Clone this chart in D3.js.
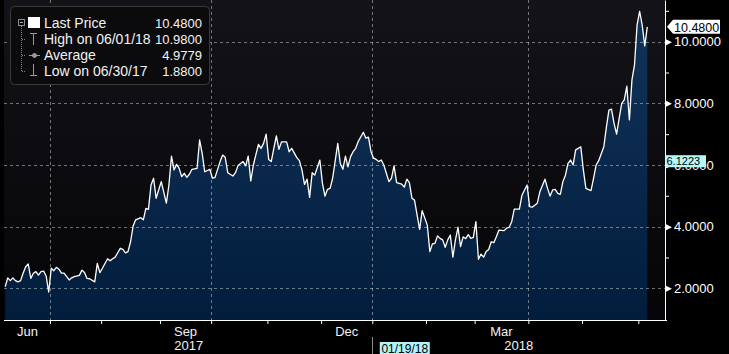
<!DOCTYPE html>
<html>
<head>
<meta charset="utf-8">
<script src="https://cdn.jsdelivr.net/npm/d3@7"></script>
<style>
  html, body { margin: 0; padding: 0; background: #000; }
  svg { display: block; font-family: "Liberation Sans", Arial, sans-serif; }
</style>
</head>
<body>
<svg id="chart" width="729" height="354"></svg>
<script>
// ===Data===
const dates = [
  "2017-06-07","2017-06-08","2017-06-09","2017-06-12","2017-06-13","2017-06-14","2017-06-15","2017-06-16",
  "2017-06-19","2017-06-20","2017-06-21","2017-06-22","2017-06-23","2017-06-26","2017-06-27","2017-06-28",
  "2017-06-29","2017-06-30","2017-07-03","2017-07-05","2017-07-06","2017-07-07","2017-07-10","2017-07-11",
  "2017-07-13","2017-07-14","2017-07-17","2017-07-19","2017-07-20","2017-07-21","2017-07-24","2017-07-25",
  "2017-07-27","2017-07-28","2017-07-31","2017-08-01","2017-08-03","2017-08-04","2017-08-07","2017-08-08",
  "2017-08-10","2017-08-11","2017-08-14","2017-08-15","2017-08-16","2017-08-17","2017-08-18","2017-08-22",
  "2017-08-23","2017-08-24","2017-08-25","2017-08-28","2017-08-29","2017-08-30","2017-09-01","2017-09-06",
  "2017-09-07","2017-09-08","2017-09-11","2017-09-12","2017-09-13","2017-09-14","2017-09-15","2017-09-18",
  "2017-09-19","2017-09-20","2017-09-22","2017-09-25","2017-09-26","2017-09-27","2017-09-29","2017-10-02",
  "2017-10-03","2017-10-05","2017-10-06","2017-10-09","2017-10-10","2017-10-12","2017-10-13","2017-10-16",
  "2017-10-18","2017-10-19","2017-10-20","2017-10-23","2017-10-24","2017-10-26","2017-10-27","2017-10-30",
  "2017-10-31","2017-11-01","2017-11-02","2017-11-03","2017-11-06","2017-11-07","2017-11-08","2017-11-10",
  "2017-11-13","2017-11-14","2017-11-16","2017-11-17","2017-11-20","2017-11-21","2017-11-22","2017-11-24",
  "2017-11-27","2017-11-28","2017-11-30","2017-12-01","2017-12-04","2017-12-05","2017-12-06","2017-12-07",
  "2017-12-11","2017-12-12","2017-12-13","2017-12-14","2017-12-15","2017-12-18","2017-12-19","2017-12-20",
  "2017-12-21","2017-12-26","2017-12-27","2017-12-28","2017-12-29","2018-01-02","2018-01-03","2018-01-04",
  "2018-01-05","2018-01-08","2018-01-09","2018-01-10","2018-01-11","2018-01-12","2018-01-16","2018-01-18",
  "2018-01-19","2018-01-22","2018-01-23","2018-01-24","2018-01-25","2018-01-29","2018-01-30","2018-02-01",
  "2018-02-02","2018-02-05","2018-02-06","2018-02-07","2018-02-08","2018-02-09","2018-02-12","2018-02-13",
  "2018-02-14","2018-02-15","2018-02-16","2018-02-20","2018-02-21","2018-02-22","2018-02-23","2018-02-26",
  "2018-02-27","2018-02-28","2018-03-01","2018-03-02","2018-03-05","2018-03-06","2018-03-07","2018-03-08",
  "2018-03-09","2018-03-12","2018-03-13","2018-03-14","2018-03-16","2018-03-19","2018-03-20","2018-03-21",
  "2018-03-22","2018-03-26","2018-03-27","2018-03-29","2018-04-02","2018-04-03","2018-04-05","2018-04-06",
  "2018-04-10","2018-04-11","2018-04-12","2018-04-13","2018-04-16","2018-04-17","2018-04-18","2018-04-19",
  "2018-04-20","2018-04-23","2018-04-24","2018-04-25","2018-04-26","2018-04-27","2018-04-30","2018-05-01",
  "2018-05-02","2018-05-04","2018-05-07","2018-05-08","2018-05-09","2018-05-11","2018-05-14","2018-05-15",
  "2018-05-16","2018-05-17","2018-05-18","2018-05-21","2018-05-22","2018-05-23","2018-05-24","2018-05-25",
  "2018-05-29","2018-05-30","2018-05-31","2018-06-01","2018-06-04","2018-06-05","2018-06-06"
];
const prices = [
  2.05,2.34,2.25,2.34,2.25,2.21,2.25,2.49,
  2.70,2.79,2.32,2.49,2.54,2.43,2.54,2.56,
  2.40,1.88,2.65,2.57,2.68,2.62,2.49,2.49,
  2.27,2.34,2.38,2.42,2.59,2.51,2.32,2.31,
  2.21,2.81,2.51,2.65,2.96,2.89,2.96,3.01,
  3.30,3.26,3.15,3.19,3.51,4.02,4.22,4.29,
  4.22,4.59,4.56,5.35,5.57,4.92,5.46,4.76,
  5.35,6.29,5.84,6.02,5.89,5.62,5.73,5.60,
  5.70,5.86,5.89,6.81,6.38,5.78,5.86,5.57,
  5.59,6.11,6.32,6.25,5.75,5.64,5.75,5.98,
  6.11,5.97,6.29,5.48,6.00,6.67,6.54,6.70,
  7.00,6.18,6.11,6.54,6.94,6.51,6.75,6.75,
  6.43,6.54,6.24,6.14,5.84,5.37,5.54,4.95,
  5.75,5.67,6.16,5.41,4.99,5.21,5.24,5.57,
  6.70,6.05,5.86,6.29,5.94,6.27,6.43,6.54,
  6.76,7.06,6.87,6.90,6.43,6.22,6.18,6.11,
  6.16,6.00,5.73,5.46,5.57,5.97,5.43,5.38,
  5.28,5.54,5.43,4.92,4.86,3.91,4.52,4.05,
  3.19,3.44,3.46,3.70,3.62,3.57,3.33,3.57,
  3.73,3.01,3.57,3.98,3.35,3.67,3.61,3.74,
  3.62,3.65,4.16,2.94,3.11,3.01,3.19,3.26,
  3.51,3.48,3.67,3.89,3.87,3.95,3.98,4.16,
  4.57,4.57,5.02,5.35,4.65,4.63,4.76,5.13,
  5.54,5.24,4.99,5.19,5.21,5.08,5.05,5.46,
  5.67,6.05,6.16,6.00,6.49,6.54,6.59,5.84,
  5.24,5.17,5.57,6.00,6.14,6.59,7.22,7.78,
  7.81,7.35,7.00,7.51,8.00,8.11,8.56,7.46,
  8.76,9.25,10.54,10.98,10.54,9.86,10.48
];
const holidays = [
  "2017-07-04","2017-09-04","2017-11-23","2017-12-25",
  "2018-01-01","2018-01-15","2018-02-19","2018-03-30","2018-05-28"
];
const gridMonths = ["2017-07", "2017-10", "2018-01", "2018-04"];
const labelMonths = ["2017-06", "2017-09", "2017-12", "2018-03"];
const monthNames = ["Jun", "Sep", "Dec", "Mar"];
const years = ["2017", "2018"];
const yTicks = [2, 3, 4, 5, 6, 7, 8, 9, 10, 11];
const legendLabels = ["Last Price", "High on 06/01/18", "Average", "Low on 06/30/17"];
const legendValues = ["10.4800", "10.9800", "4.9779", "1.8800"];
const lastPrice = 10.48;
const crossValue = 6.1223;
const crossDate = "2018-01-19";

//===Graph===
const plotLeft = 4, plotRight = 665, plotTop = 0, plotBottom = 320;

// trading calendar used for the x axis (weekdays without holidays)
const fmt = d3.timeFormat("%Y-%m-%d");
const days = d3.timeDay
  .range(new Date(2017, 5, 7), new Date(2018, 5, 7))
  .filter((d) => d.getDay() % 6 !== 0)
  .map(fmt)
  .filter((d) => !holidays.includes(d));
const dayIndex = new Map(days.map((d, i) => [d, i]));

const x = d3.scaleLinear().domain([0, days.length - 1]).range([5.2, 647.3]);
const y = d3.scaleLinear().domain([0.972, 11.351]).range([plotBottom, plotTop]);

const data = dates.map((d, i) => ({ i: dayIndex.get(d), v: prices[i] }))
  .filter((d) => d.i !== undefined);

// month boundaries sit halfway between two trading days
const bounds = [];
days.forEach((d, i) => {
  if (i > 0 && d.slice(0, 7) !== days[i - 1].slice(0, 7)) {
    bounds.push({ month: d.slice(0, 7), i: i - 0.5 });
  }
});
const boundOf = (m) => {
  const b = bounds.find((e) => e.month === m);
  return b ? b.i : 0;
};
const boundAfter = (m) => {
  const b = bounds.find((e) => e.month > m);
  return b ? b.i : days.length - 1;
};

const svg = d3.select("#chart");
const defs = svg.append("defs");

const bgGrad = defs.append("linearGradient").attr("id", "bg")
  .attr("gradientUnits", "userSpaceOnUse")
  .attr("x1", 0).attr("y1", plotTop).attr("x2", 0).attr("y2", plotBottom);
bgGrad.append("stop").attr("offset", 0).attr("stop-color", "#141319");
bgGrad.append("stop").attr("offset", 1).attr("stop-color", "#050507");

const areaGrad = defs.append("linearGradient").attr("id", "fill")
  .attr("gradientUnits", "userSpaceOnUse")
  .attr("x1", 0).attr("y1", plotTop).attr("x2", 0).attr("y2", plotBottom);
areaGrad.append("stop").attr("offset", 0).attr("stop-color", "#12345c");
areaGrad.append("stop").attr("offset", 1).attr("stop-color", "#021d3c");

svg.append("rect").attr("width", 729).attr("height", 354).attr("fill", "#000");
svg.append("rect")
  .attr("x", plotLeft).attr("y", plotTop)
  .attr("width", plotRight - plotLeft).attr("height", plotBottom - plotTop)
  .attr("fill", "url(#bg)");

// Area + line
svg.append("path")
  .datum(data)
  .attr("fill", "url(#fill)")
  .attr("d", d3.area().x((d) => x(d.i)).y0(plotBottom).y1((d) => y(d.v)));

// Grid
const grid = svg.append("g")
  .attr("stroke", "#ffffff")
  .attr("stroke-opacity", 0.42)
  .attr("stroke-dasharray", "3,3")
  .attr("shape-rendering", "crispEdges");
grid.selectAll("line.h")
  .data(yTicks.filter((t) => t % 2 === 0))
  .join("line")
  .attr("x1", plotLeft).attr("x2", plotRight)
  .attr("y1", (d) => Math.round(y(d)) + 0.5).attr("y2", (d) => Math.round(y(d)) + 0.5);
grid.selectAll("line.v")
  .data(gridMonths)
  .join("line")
  .attr("x1", (d) => Math.round(x(boundOf(d))) + 0.5)
  .attr("x2", (d) => Math.round(x(boundOf(d))) + 0.5)
  .attr("y1", plotTop).attr("y2", plotBottom);

svg.append("path")
  .datum(data)
  .attr("fill", "none")
  .attr("stroke", "#ffffff")
  .attr("stroke-width", 1.3)
  .attr("stroke-linejoin", "round")
  .attr("d", d3.line().x((d) => x(d.i)).y((d) => y(d.v)));

// Y axis
const yAxis = svg.append("g")
  .attr("transform", `translate(${plotRight},0)`)
  .call(
    d3.axisRight(y)
      .tickValues(yTicks)
      .tickSize(4)
      .tickSizeOuter(0)
      .tickPadding(5)
      .tickFormat((d) => (d % 2 === 0 ? d3.format(".4f")(d) : ""))
  )
  .attr("font-family", null)
  .attr("font-size", 13);
yAxis.select(".domain").attr("stroke", "#ffffff");
yAxis.selectAll(".tick line").attr("stroke", "#ffffff");
yAxis.selectAll(".tick text").attr("fill", "#ffffff");
yAxis.selectAll(".tick")
  .filter((d) => d % 2 === 0)
  .call((g) => g.select("line").remove())
  .append("path")
  .attr("d", "M1,-3L7,0L1,3Z")
  .attr("fill", "#ffffff");

// X axis
const xAxis = svg.append("g")
  .attr("transform", `translate(0,${plotBottom})`)
  .call(d3.axisBottom(x).tickValues(bounds.map((b) => b.i)).tickSize(4).tickFormat(""));
xAxis.select(".domain").remove();
xAxis.selectAll(".tick line").attr("stroke", "#ffffff");
svg.append("line")
  .attr("x1", plotLeft).attr("x2", plotRight + 2)
  .attr("y1", plotBottom + 0.5).attr("y2", plotBottom + 0.5)
  .attr("stroke", "#ffffff");

svg.append("g")
  .selectAll("text")
  .data(labelMonths)
  .join("text")
  .attr("x", (d) => (x(boundOf(d)) + x(boundAfter(d))) / 2)
  .attr("y", 335.5)
  .attr("text-anchor", "middle")
  .attr("font-size", 13)
  .attr("fill", "#f2f2f2")
  .text((d, i) => monthNames[i]);

const janBound = x(boundOf("2018-01"));
svg.append("g")
  .selectAll("text")
  .data(years)
  .join("text")
  .attr("x", (d, i) => (i === 0 ? (x(0) + janBound) / 2 : (janBound + plotRight) / 2))
  .attr("y", 350)
  .attr("text-anchor", "middle")
  .attr("font-size", 13)
  .attr("fill", "#f2f2f2")
  .text((d) => d);
svg.append("line")
  .attr("x1", Math.round(janBound) + 0.5).attr("x2", Math.round(janBound) + 0.5)
  .attr("y1", 337).attr("y2", 354)
  .attr("stroke", "#8a8a8a");

// Crosshair date label
const cx = x(dayIndex.get(crossDate));
svg.append("rect")
  .attr("x", cx - 24.5).attr("y", 342)
  .attr("width", 50).attr("height", 13)
  .attr("fill", "#b4f2f6");
svg.append("text")
  .attr("x", cx + 0.5).attr("y", 352.5)
  .attr("text-anchor", "middle")
  .attr("font-size", 12)
  .attr("fill", "#000")
  .text(d3.timeFormat("%m/%d/%y")(d3.timeParse("%Y-%m-%d")(crossDate)));

// Crosshair value label
const cy = y(crossValue);
svg.append("rect")
  .attr("x", plotRight + 0.5).attr("y", cy - 6)
  .attr("width", 40.5).attr("height", 12)
  .attr("fill", "#b4f8f8");
svg.append("text")
  .attr("x", plotRight + 1.5).attr("y", cy + 4)
  .attr("font-size", 11)
  .attr("fill", "#000")
  .text(d3.format(".4f")(crossValue));

// Last price label
const ly = y(lastPrice);
svg.append("path")
  .attr("d", `M${plotRight + 2},${ly} L${plotRight + 8},${ly - 7} H${plotRight + 55} V${ly + 7} H${plotRight + 8} Z`)
  .attr("fill", "#ffffff");
svg.append("text")
  .attr("x", plotRight + 9).attr("y", ly + 5)
  .attr("font-size", 12.5)
  .attr("fill", "#000")
  .text(d3.format(".4f")(lastPrice));

// Legend
const legend = svg.append("g");
legend.append("rect")
  .attr("x", 10.5).attr("y", 6.5)
  .attr("width", 199).attr("height", 78)
  .attr("rx", 4)
  .attr("fill", "#0b0b0d")
  .attr("stroke", "#3a3a3a");

const rowY = (i) => 23 + i * 16;
const tree = legend.append("g")
  .attr("stroke", "#808080")
  .attr("stroke-dasharray", "1,1")
  .attr("shape-rendering", "crispEdges");
tree.append("line").attr("x1", 21.5).attr("x2", 21.5).attr("y1", 26).attr("y2", rowY(3) + 0.5);
[1, 2, 3].forEach((i) => {
  tree.append("line").attr("x1", 21.5).attr("x2", 26).attr("y1", rowY(i) + 0.5).attr("y2", rowY(i) + 0.5);
});
legend.append("rect")
  .attr("x", 18.5).attr("y", 19.5).attr("width", 6).attr("height", 6)
  .attr("fill", "#0b0b0d").attr("stroke", "#8a8a8a");
legend.append("line")
  .attr("x1", 20).attr("x2", 23).attr("y1", 22.5).attr("y2", 22.5)
  .attr("stroke", "#b0b0b0");
legend.append("rect")
  .attr("x", 28).attr("y", 17).attr("width", 12).attr("height", 11)
  .attr("fill", "#ffffff");

const icon = legend.append("g").attr("stroke", "#9a9a9a").attr("fill", "#9a9a9a");
// high
icon.append("line").attr("x1", 30).attr("x2", 37).attr("y1", 33.5).attr("y2", 33.5);
icon.append("line").attr("x1", 33.5).attr("x2", 33.5).attr("y1", 33.5).attr("y2", 45);
// average
icon.append("line").attr("x1", 29).attr("x2", 40).attr("y1", 55.5).attr("y2", 55.5);
icon.append("circle").attr("cx", 34.5).attr("cy", 55.5).attr("r", 2);
// low
icon.append("line").attr("x1", 33.5).attr("x2", 33.5).attr("y1", 64).attr("y2", 75.5);
icon.append("line").attr("x1", 30).attr("x2", 37).attr("y1", 75.5).attr("y2", 75.5);

legend.selectAll("text.label")
  .data(legendLabels)
  .join("text")
  .attr("class", "label")
  .attr("x", 44)
  .attr("y", (d, i) => rowY(i) + 5)
  .attr("font-size", 14)
  .attr("fill", "#f2f2f2")
  .text((d) => d);
legend.selectAll("text.value")
  .data(legendValues)
  .join("text")
  .attr("class", "value")
  .attr("x", 202)
  .attr("y", (d, i) => rowY(i) + 5)
  .attr("text-anchor", "end")
  .attr("font-size", 13)
  .attr("fill", "#f2f2f2")
  .text((d) => d);
</script>
</body>
</html>
